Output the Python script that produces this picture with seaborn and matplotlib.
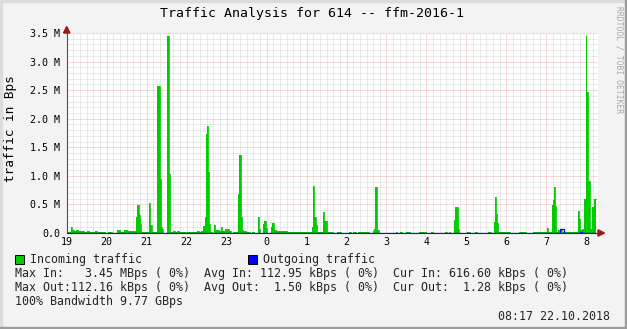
import matplotlib
matplotlib.use("Agg")
import numpy as np
import pandas as pd
import seaborn as sns
import matplotlib.pyplot as plt
from matplotlib.patches import Rectangle, Polygon
from matplotlib.ticker import MultipleLocator, FixedLocator

# ---------------- data ----------------
title = "Traffic Analysis for 614 -- ffm-2016-1"
y_label = "traffic in Bps"
hour_labels = ["19", "20", "21", "22", "23", "0", "1", "2", "3", "4", "5", "6", "7", "8"]
hour_minutes = [0, 60, 120, 180, 240, 300, 360, 420, 480, 540, 600, 660, 720, 780]
y_tick_values = [0.0, 0.5, 1.0, 1.5, 2.0, 2.5, 3.0, 3.5]
y_tick_labels = ["0.0", "0.5 M", "1.0 M", "1.5 M", "2.0 M", "2.5 M", "3.0 M", "3.5 M"]

# incoming traffic: step start (minutes after 19:00) and value (MBps)
in_start_min = [0, 6, 8, 11, 14, 17, 20, 26, 30, 33, 39, 42, 45, 57, 62, 68, 75, 80, 86, 90,
                98, 99, 102, 104, 106, 108, 110, 111, 124, 125, 128, 135, 136, 140, 141, 143, 145,
                151, 153, 155, 156, 159, 162, 165, 168, 179, 180, 195, 198, 202, 205, 207, 209,
                210, 212, 214, 215, 218, 221, 222, 228, 232, 233, 238, 243, 246, 249, 257, 258,
                261, 263, 264, 269, 275, 278, 281, 287, 289, 290, 295, 296, 299, 301, 307, 308,
                311, 314, 331, 342, 368, 370, 371, 374, 376, 385, 386, 391, 400, 406, 412, 424,
                427, 430, 434, 437, 454, 460, 461, 463, 465, 466, 468, 494, 496, 500, 503, 509,
                515, 529, 539, 547, 550, 568, 571, 574, 575, 582, 583, 588, 589, 601, 606, 613,
                616, 633, 637, 642, 643, 645, 646, 648, 666, 679, 690, 700, 721, 723, 729, 730,
                732, 733, 735, 738, 739, 741, 744, 768, 769, 771, 774, 777, 779, 780, 783, 785,
                788, 791, 792]
in_value_M = [0.018, 0.1, 0.05, 0.035, 0.05, 0.03, 0.035, 0.018, 0.03, 0.01, 0.018, 0.035, 0.018,
              0.003, 0.018, 0.003, 0.052, 0.018, 0.052, 0.035,
              0.018, 0.035, 0.018, 0.285, 0.49, 0.31, 0.15, 0.018, 0.53, 0.14, 0.018, 0.035, 2.57,
              0.94, 0.11, 0.065, 0.003,
              3.45, 1.04, 0.005, 0.018, 0.035, 0.018, 0.03, 0.018, 0.005, 0.018, 0.03, 0.018,
              0.04, 0.12, 0.285, 1.74,
              1.88, 1.07, 0.15, 0.02, 0.005, 0.14, 0.05, 0.035, 0.1, 0.035, 0.07, 0.035, 0.003,
              0.01, 0.68, 1.365,
              0.285, 0.05, 0.035, 0.018, 0.003, 0.018, 0.003, 0.28, 0.07, 0.005, 0.16, 0.21, 0.09,
              0.005, 0.11, 0.175,
              0.05, 0.035, 0.018, 0.012, 0.1, 0.82, 0.28, 0.14, 0.018, 0.37, 0.21, 0.018, 0.003,
              0.018, 0.003, 0.018,
              0.003, 0.018, 0.003, 0.018, 0.003, 0.035, 0.07, 0.805, 0.27, 0.05, 0.003, 0.018,
              0.003, 0.018, 0.003, 0.018,
              0.003, 0.018, 0.003, 0.018, 0.003, 0.018, 0.003, 0.018, 0.003, 0.23, 0.455, 0.07,
              0.003, 0.018, 0.003, 0.018,
              0.003, 0.018, 0.003, 0.2, 0.63, 0.34, 0.18, 0.018, 0.003, 0.018, 0.003, 0.018, 0.09,
              0.018, 0.49, 0.575,
              0.805, 0.47, 0.018, 0.05, 0.018, 0.05, 0.018, 0.385, 0.245, 0.05, 0.07, 0.59, 3.45,
              2.46, 0.915, 0.07,
              0.45, 0.285, 0.59]

# outgoing traffic
out_start_min = [0, 740, 746, 771, 774]
out_value_M = [0.0015, 0.065, 0.0015, 0.02, 0.0015]
series_end_min = 795
x_end_min = 797

legend_in = "Incoming traffic"
legend_out = "Outgoing traffic"
stat_lines = [
    "Max In:   3.45 MBps ( 0%)  Avg In: 112.95 kBps ( 0%)  Cur In: 616.60 kBps ( 0%)",
    "Max Out:112.16 kBps ( 0%)  Avg Out:  1.50 kBps ( 0%)  Cur Out:  1.28 kBps ( 0%)",
    "100% Bandwidth 9.77 GBps",
]
timestamp = "08:17 22.10.2018"
watermark = "RRDTOOL / TOBI OETIKER"

assert len(in_start_min) == len(in_value_M)

# ---------------- build frames ----------------
df_in = pd.DataFrame({"t": in_start_min + [series_end_min],
                      "v": in_value_M + [in_value_M[-1]]})
df_out = pd.DataFrame({"t": out_start_min + [series_end_min],
                       "v": out_value_M + [out_value_M[-1]]})

# ---------------- style ----------------
sns.set_style("white")
plt.rcParams["font.family"] = ["DejaVu Sans Mono"]

W, H = 627, 329
fig = plt.figure(figsize=(W / 100, H / 100), dpi=100, facecolor="#F3F3F3")

def fx(px):
    return px / W

def fy(py):
    return 1 - py / H

L, R, T, B = 66.7, 597.7, 33.0, 233.0
ax = fig.add_axes([fx(L), fy(B), fx(R) - fx(L), fy(T) - fy(B)])
ax.set_facecolor("white")

green = "#00CC00"
blue = "#0000FF"

ax.fill_between(df_in["t"], 0, df_in["v"], step="post", color=green, linewidth=0, zorder=3)
sns.lineplot(data=df_in, x="t", y="v", drawstyle="steps-post", color=green, linewidth=0.6,
             ax=ax, zorder=3, estimator=None, sort=False)
sns.lineplot(data=df_out, x="t", y="v", drawstyle="steps-post", color=blue, linewidth=0.9,
             ax=ax, zorder=4, estimator=None, sort=False)

ax.set_xlim(0, x_end_min)
ax.set_ylim(0, 3.5)

ax.xaxis.set_major_locator(FixedLocator(hour_minutes))
ax.set_xticklabels(hour_labels)
ax.xaxis.set_minor_locator(MultipleLocator(10))
ax.yaxis.set_major_locator(FixedLocator(y_tick_values))
ax.set_yticklabels(y_tick_labels)
ax.yaxis.set_minor_locator(MultipleLocator(0.1))

ax.grid(which="minor", color="#D6D6D6", linestyle=(0, (1, 1)), linewidth=0.72, zorder=1)
ax.grid(which="major", color="#F0B0B0", linestyle=(0, (1, 1)), linewidth=0.72, zorder=2)
ax.set_axisbelow(True)

ax.tick_params(axis="both", which="both", length=0, labelsize=7.2, colors="#000000")
ax.tick_params(axis="y", pad=4.6)
ax.tick_params(axis="x", pad=2.6)
ax.set_xlabel("")
ax.set_ylabel("")

for s in ["top", "right"]:
    ax.spines[s].set_visible(False)
ax.spines["left"].set_color("#505050")
ax.spines["left"].set_linewidth(0.8)
ax.spines["bottom"].set_color("#202060")
ax.spines["bottom"].set_linewidth(0.8)
ax.spines["left"].set_zorder(6)
ax.spines["bottom"].set_zorder(6)

# axis arrows
arrow_c = "#A01818"
fig.add_artist(Polygon([(fx(L), fy(26.5)), (fx(L - 3.2), fy(33)), (fx(L + 3.2), fy(33))],
                       closed=True, color=arrow_c, transform=fig.transFigure))
fig.add_artist(Polygon([(fx(604.5), fy(B)), (fx(598), fy(B - 3.2)), (fx(598), fy(B + 3.2))],
                       closed=True, color=arrow_c, transform=fig.transFigure))

# texts
fig.text(fx(312.5), fy(13.5), title, ha="center", va="center", fontsize=9.5, color="#000000")
fig.text(fx(11), fy(129), y_label, ha="center", va="center", rotation=90, fontsize=9.2,
         color="#000000")
fig.text(fx(618.5), fy(60), watermark, ha="center", va="center", rotation=270, fontsize=5.8,
         color="#A8A8A8")

# legend
fs = 8.33
fig.add_artist(Rectangle((fx(15), fy(264)), fx(9), 9 / H, facecolor=green, edgecolor="#000000",
                         linewidth=0.7, transform=fig.transFigure))
fig.text(fx(30.5), fy(259.5), legend_in, ha="left", va="center", fontsize=fs)
fig.add_artist(Rectangle((fx(248), fy(264)), fx(9), 9 / H, facecolor=blue, edgecolor="#000000",
                         linewidth=0.7, transform=fig.transFigure))
fig.text(fx(263), fy(259.5), legend_out, ha="left", va="center", fontsize=fs)

for i, line in enumerate(stat_lines):
    fig.text(fx(14.5), fy(273.5 + 14 * i), line, ha="left", va="center", fontsize=fs)
fig.text(fx(610), fy(316), timestamp, ha="right", va="center", fontsize=fs)

# 3D frame
fig.add_artist(Rectangle((0, fy(2)), 1, 2 / H, color="#DCDCDC", transform=fig.transFigure))
fig.add_artist(Rectangle((0, 0), fx(2), 1, color="#DCDCDC", transform=fig.transFigure))
fig.add_artist(Rectangle((fx(625), 0), fx(2), 1, color="#9C9C9C", transform=fig.transFigure))
fig.add_artist(Rectangle((0, 0), 1, 2 / H, color="#9C9C9C", transform=fig.transFigure))

fig.savefig("out.png", dpi=100, facecolor=fig.get_facecolor())
